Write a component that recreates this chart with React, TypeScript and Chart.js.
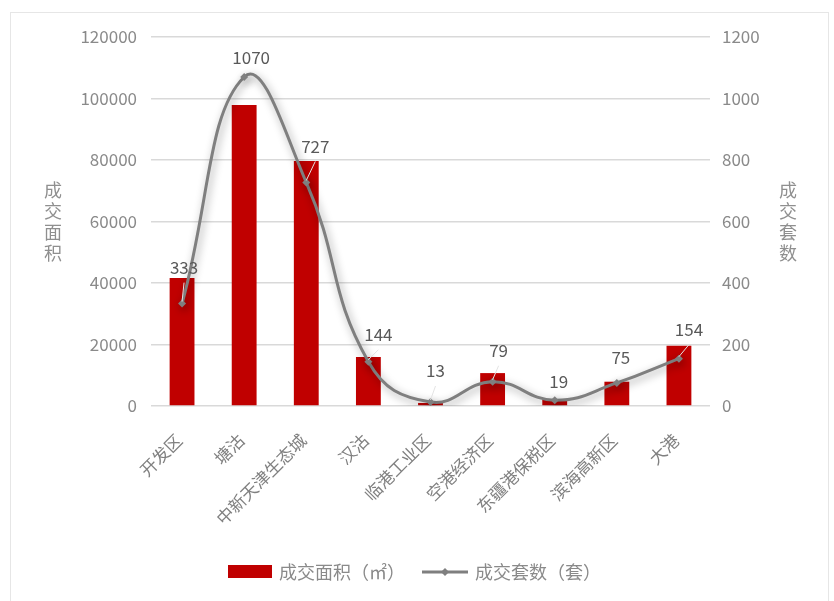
import { useEffect, useRef } from "react"
import { Chart, registerables } from "chart.js"
import type { Plugin } from "chart.js"

Chart.register(...registerables)

const districts = [
  "开发区",
  "塘沽",
  "中新天津生态城",
  "汉沽",
  "临港工业区",
  "空港经济区",
  "东疆港保税区",
  "滨海高新区",
  "大港",
]
const areaValues = [41600, 97900, 79700, 15900, 1000, 10700, 2000, 7900, 19600]
const unitValues = [333, 1070, 727, 144, 13, 79, 19, 75, 154]
const areaLabel = "成交面积（㎡）"
const unitLabel = "成交套数（套）"
const leftTitle = "成交面积"
const rightTitle = "成交套数"

// hand-placed label nudges (px) like in the excel original
const labelNudge = [
  [2, -36], [7, -19], [9, -36], [10, -27], [5, -31], [6, -31], [4, -19], [4, -25], [10, -29],
]

const FONT = "'Noto Sans CJK SC', 'Noto Sans', sans-serif"
const RED = "#c00000"
const LINE = "#7f7f7f"
const TICK = "#8a8a8a"

const decorPlugin: Plugin = {
  id: "decor",
  beforeDraw(chart) {
    const ctx = chart.ctx
    ctx.save()
    ctx.strokeStyle = "#e6e6e6"
    ctx.lineWidth = 1
    ctx.strokeRect(10.5, 12.5, 818, 600)
    ctx.restore()
  },
  beforeDatasetDraw(chart, args) {
    if (args.index !== 1) return
    const ctx = chart.ctx
    ctx.save()
    ctx.shadowColor = "rgba(0,0,0,0.4)"
    ctx.shadowBlur = 9
    ctx.shadowOffsetX = 2
    ctx.shadowOffsetY = 3
  },
  afterDatasetDraw(chart, args) {
    if (args.index !== 1) return
    chart.ctx.restore()
  },
  afterDraw(chart) {
    const ctx = chart.ctx
    ctx.save()

    // data labels of the line
    const meta = chart.getDatasetMeta(1)
    ctx.font = `17px ${FONT}`
    ctx.textAlign = "center"
    ctx.textBaseline = "middle"
    meta.data.forEach((pt, i) => {
      const [dx, dy] = labelNudge[i]
      const lx = pt.x + dx
      const ly = pt.y + dy
      if (Math.hypot(dx, dy) > 26) {
        ctx.strokeStyle = "#e3e3e3"
        ctx.lineWidth = 1
        ctx.beginPath()
        ctx.moveTo(lx, ly + 15)
        ctx.lineTo(pt.x, pt.y - 2)
        ctx.stroke()
      }
      ctx.fillStyle = "#595959"
      ctx.fillText(String(unitValues[i]), lx, ly)
    })

    // stacked axis titles
    ctx.font = `18px ${FONT}`
    ctx.fillStyle = "#8f8f8f"
    const midY = (chart.chartArea.top + chart.chartArea.bottom) / 2
    const drawStack = (txt: string, x: number) => {
      const chars = Array.from(txt)
      const lh = 21
      const y0 = midY - ((chars.length - 1) * lh) / 2
      chars.forEach((c, k) => ctx.fillText(c, x, y0 + k * lh))
    }
    drawStack(leftTitle, 53)
    drawStack(rightTitle, 788)

    // legend
    ctx.font = `18px ${FONT}`
    ctx.textAlign = "left"
    const ly = 572
    ctx.fillStyle = RED
    ctx.fillRect(228, ly - 7, 44, 13)
    ctx.fillStyle = TICK
    ctx.fillText(areaLabel, 279, ly)
    ctx.strokeStyle = LINE
    ctx.lineWidth = 3
    ctx.beginPath()
    ctx.moveTo(422, ly)
    ctx.lineTo(468, ly)
    ctx.stroke()
    ctx.fillStyle = LINE
    ctx.beginPath()
    ctx.moveTo(445, ly - 4)
    ctx.lineTo(449, ly)
    ctx.lineTo(445, ly + 4)
    ctx.lineTo(441, ly)
    ctx.closePath()
    ctx.fill()
    ctx.fillStyle = TICK
    ctx.fillText(unitLabel, 475, ly)

    ctx.restore()
  },
}

export default function App() {
  const canvasRef = useRef<HTMLCanvasElement>(null)

  useEffect(() => {
    document.body.style.margin = "0"
    if (!canvasRef.current) return
    const ctx = canvasRef.current.getContext("2d")
    if (!ctx) return

    const chart = new Chart(ctx, {
      type: "bar",
      data: {
        labels: districts,
        datasets: [
          {
            type: "bar",
            label: areaLabel,
            data: areaValues,
            backgroundColor: RED,
            yAxisID: "y",
            barPercentage: 0.4,
            categoryPercentage: 1,
            order: 2,
          },
          {
            type: "line",
            label: unitLabel,
            data: unitValues,
            borderColor: LINE,
            backgroundColor: LINE,
            borderWidth: 3,
            tension: 0.45,
            pointStyle: "rectRot",
            pointRadius: 4,
            pointBackgroundColor: LINE,
            pointBorderWidth: 0,
            yAxisID: "y1",
            order: 1,
          },
        ],
      },
      options: {
        responsive: false,
        animation: false,
        layout: { padding: { top: 37, left: 0, right: 0, bottom: 0 }, autoPadding: false },
        plugins: {
          legend: { display: false },
          tooltip: { enabled: false },
        },
        scales: {
          x: {
            grid: { display: false, drawTicks: false },
            border: { display: false },
            ticks: {
              color: "#808080",
              font: { size: 17, family: FONT },
              minRotation: 45,
              maxRotation: 45,
              autoSkip: false,
              padding: 24,
              labelOffset: -3,
            },
            afterFit: (s) => {
              s.height = 195
            },
          },
          y: {
            position: "left",
            min: 0,
            max: 120000,
            ticks: {
              stepSize: 20000,
              color: TICK,
              font: { size: 17, family: FONT },
              padding: 14,
              callback: (v) => String(v),
            },
            grid: { color: "#d9d9d9", lineWidth: 1.5, drawTicks: false },
            border: { display: false },
            afterFit: (s) => {
              s.width = 151
            },
          },
          y1: {
            position: "right",
            min: 0,
            max: 1200,
            ticks: {
              stepSize: 200,
              color: TICK,
              font: { size: 17, family: FONT },
              padding: 12,
              callback: (v) => String(v),
            },
            grid: { display: false, drawTicks: false },
            border: { display: false },
            afterFit: (s) => {
              s.width = 124
            },
          },
        },
      },
      plugins: [decorPlugin],
    })

    return () => chart.destroy()
  }, [])

  return (
    <div style={{ width: 834, height: 601, background: "#fff" }}>
      <canvas ref={canvasRef} width={834} height={601} />
    </div>
  )
}
